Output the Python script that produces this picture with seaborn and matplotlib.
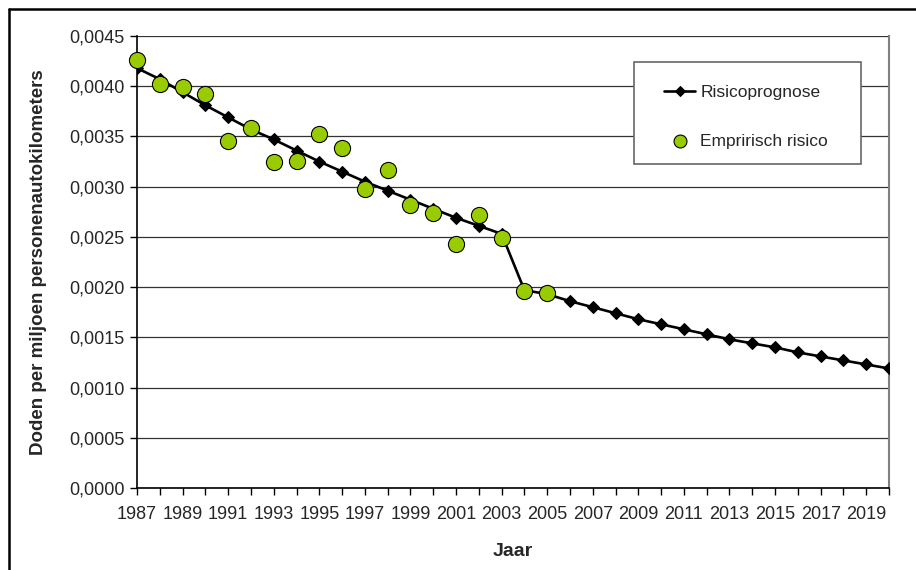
import matplotlib
matplotlib.use("Agg")
import matplotlib.pyplot as plt
import matplotlib.ticker as mticker
from matplotlib.lines import Line2D
from matplotlib.patches import Rectangle
import seaborn as sns
import pandas as pd

# data
prognose_jaren = list(range(1987, 2021))
prognose_risico = [0.00418, 0.00407, 0.00394, 0.00381, 0.00369, 0.00357, 0.00347,
                   0.00336, 0.00325, 0.00315, 0.00305, 0.00296, 0.00287, 0.00278,
                   0.00269, 0.00261, 0.00253, 0.00197, 0.00193, 0.00186, 0.00180,
                   0.00174, 0.00168, 0.00163, 0.00158, 0.00153, 0.00148, 0.00144,
                   0.00140, 0.00135, 0.00131, 0.00127, 0.00123, 0.00119]

empirisch_jaren = list(range(1987, 2006))
empirisch_risico = [0.00426, 0.00402, 0.00399, 0.00392, 0.00345, 0.00358, 0.00325,
                    0.00326, 0.00352, 0.00338, 0.00298, 0.00317, 0.00282, 0.00274,
                    0.00243, 0.00272, 0.00249, 0.00196, 0.00194]

x_labels = list(range(1987, 2020, 2))

sns.set_theme(style="white")
plt.rcParams.update({
    'font.family': ['Liberation Sans', 'DejaVu Sans'],
    'font.size': 13,
})

df_prog = pd.DataFrame({'jaar': prognose_jaren, 'risico': prognose_risico})
df_emp = pd.DataFrame({'jaar': empirisch_jaren, 'risico': empirisch_risico})

fig = plt.figure(figsize=(9.16, 5.70), dpi=100)
ax = fig.add_axes([137 / 916, 1 - 488 / 570, (889 - 137) / 916, (488 - 36) / 570])

sns.lineplot(data=df_prog, x='jaar', y='risico', ax=ax, color='black', linewidth=1.9,
             marker='D', markersize=6.3, markeredgecolor='black', label='Risicoprognose',
             zorder=3)
sns.scatterplot(data=df_emp, x='jaar', y='risico', ax=ax, color='#99CC00', s=135,
                edgecolor='black', linewidth=0.8, label='Empririsch risico', zorder=4,
                clip_on=False)

ax.set_xlim(1987, 2020)
ax.set_ylim(0, 0.0045)
ax.set_xticks(range(1987, 2021), minor=True)
ax.set_xticks(x_labels)
ax.set_yticks([i * 0.0005 for i in range(10)])
ax.yaxis.set_major_formatter(mticker.FuncFormatter(lambda v, p: f"{v:.4f}".replace('.', ',')))

ax.grid(axis='y', color='#333333', linewidth=0.9)
ax.set_axisbelow(True)
for side in ['left', 'bottom']:
    ax.spines[side].set_color('black')
    ax.spines[side].set_linewidth(1.2)
ax.spines['top'].set_visible(False)
ax.spines['right'].set_color('#808080')
ax.spines['right'].set_linewidth(1.5)

ax.tick_params(axis='both', which='both', direction='out', length=5, width=1,
               color='black', labelsize=13, left=True, bottom=True)
ax.tick_params(axis='x', which='major', pad=8)
ax.tick_params(axis='y', pad=4)

ax.set_xlabel("Jaar", fontsize=14, fontweight='bold', labelpad=14)
ax.set_ylabel("Doden per miljoen personenautokilometers", fontsize=13.5,
              fontweight='bold', labelpad=16)

# legend box
ax.add_patch(Rectangle(((634 - 137) / 752, (488 - 164) / 452), (861 - 634) / 752,
                       (164 - 62) / 452, transform=ax.transAxes, facecolor='white',
                       edgecolor='#666666', linewidth=1.2, zorder=5))
handles, labels = ax.get_legend_handles_labels()
leg = ax.legend(handles, labels, loc='upper left', bbox_to_anchor=(0.68, 0.927),
                frameon=False, fontsize=12.5, handlelength=1.8, handletextpad=0.3,
                labelspacing=1.95, markerscale=0.8)
leg.set_zorder(6)

# outer frame (left and top sides visible)
fig.add_artist(Line2D([8.5 / 916, 8.5 / 916], [0, 1 - 9 / 570], color='black', linewidth=1.8))
fig.add_artist(Line2D([8.5 / 916, 1], [1 - 9 / 570, 1 - 9 / 570], color='black', linewidth=1.8))

fig.savefig("out.png", dpi=100, facecolor='white')
